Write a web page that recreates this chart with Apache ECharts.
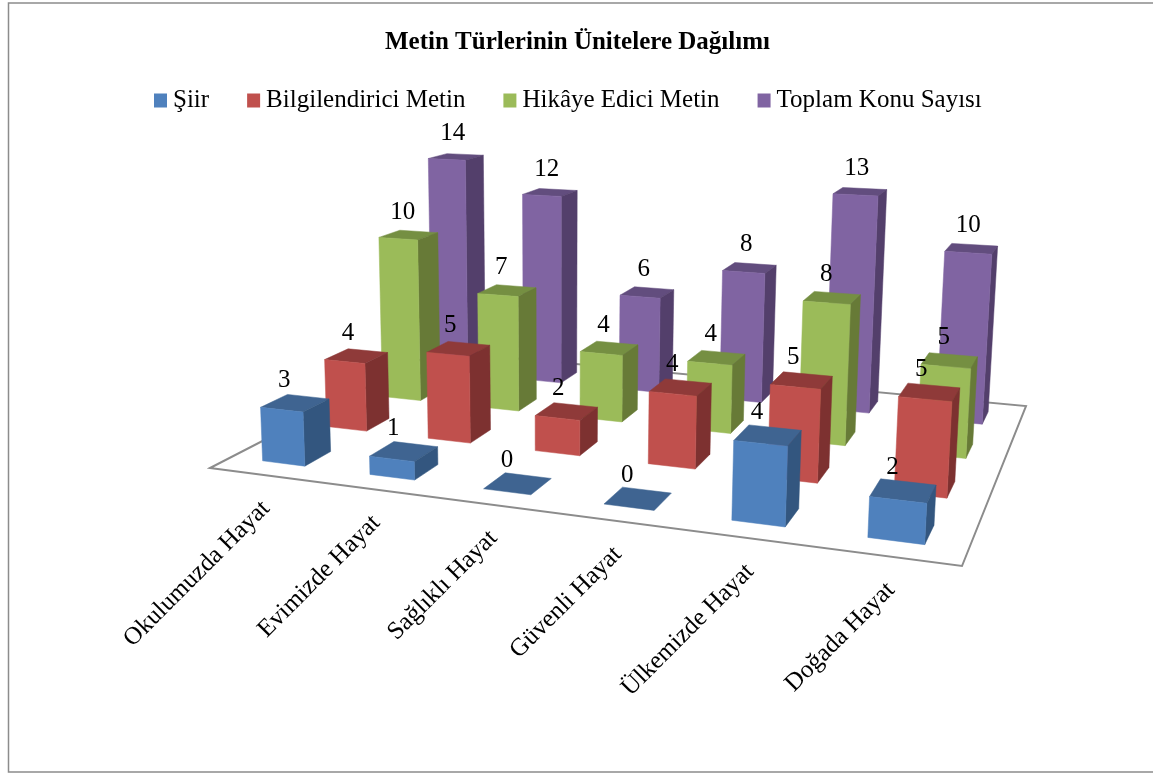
<!DOCTYPE html>
<html>
<head>
<meta charset="utf-8">
<title>Metin Türlerinin Ünitelere Dağılımı</title>
<script src="https://cdn.jsdelivr.net/npm/echarts@6/dist/echarts.min.js"></script>
<style>
	html, body { margin: 0; padding: 0; background: #fff; }
	#main { width: 1153px; height: 774px; }
</style>
</head>
<body>
<div id="main"></div>
<script>
	const categories = ['Okulumuzda Hayat', 'Evimizde Hayat', 'Sağlıklı Hayat', 'Güvenli Hayat', 'Ülkemizde Hayat', 'Doğada Hayat']
	const seriesNames = ['Şiir', 'Bilgilendirici Metin', 'Hikâye Edici Metin', 'Toplam Konu Sayısı']
	const siir = [3, 1, 0, 0, 4, 2]
	const bilgilendirici = [4, 5, 2, 4, 5, 5]
	const hikaye = [10, 7, 4, 4, 8, 5]
	const toplam = [14, 12, 6, 8, 13, 10]
	const seriesValues = [siir, bilgilendirici, hikaye, toplam]

	// front, top, side
	const palette = [
		['#4f81bd', '#3f6491', '#33567f'],
		['#c0504d', '#8f3a39', '#7d3130'],
		['#9bbb59', '#758f42', '#677a37'],
		['#8064a2', '#624d7e', '#533f6b']
	]

	const font = '"Liberation Serif", "Times New Roman", serif'
	const zMax = 16
	const gapRatio = 0.4

	// floor corners on the page: front left, front right, back right, back left
	const floor = [[210, 468], [962, 566], [1026, 406], [437, 351]]
	// vanishing point of the vertical edges, and strength per unit of value
	const vertical = { x: 555, y: 8000, k: -0.00238 }

	function makeProjection() {
		const [p0, p1, p2, p3] = floor
		const dx1 = p1[0] - p2[0], dx2 = p3[0] - p2[0], sx = p0[0] - p1[0] + p2[0] - p3[0]
		const dy1 = p1[1] - p2[1], dy2 = p3[1] - p2[1], sy = p0[1] - p1[1] + p2[1] - p3[1]
		const det = dx1 * dy2 - dx2 * dy1
		const g = (sx * dy2 - dx2 * sy) / det
		const h = (dx1 * sy - sx * dy1) / det
		const a = p1[0] - p0[0] + g * p1[0], b = p3[0] - p0[0] + h * p3[0]
		const d = p1[1] - p0[1] + g * p1[1], e = p3[1] - p0[1] + h * p3[1]
		return function (u, v, z) {
			const kz = z * vertical.k
			const w = g * u + h * v + 1 + kz
			return [
				(a * u + b * v + p0[0] + kz * vertical.x) / w,
				(d * u + e * v + p0[1] + kz * vertical.y) / w
			]
		}
	}
	const project = makeProjection()

	// read the bar's place from the hidden axes
	function barBox(params, api) {
		const grid = params.coordSys
		const pos = api.coord([api.value(0), api.value(1)])
		const band = api.size([1, 0])[0] / grid.width
		return {
			u: (pos[0] - grid.x) / grid.width,
			z: (grid.y + grid.height - pos[1]) / grid.height * zMax,
			halfU: band * gapRatio / 2
		}
	}

	function renderBar(s) {
		const cellV = 1 / seriesNames.length
		const v = (s + 0.5) * cellV
		const halfV = cellV * gapRatio / 2
		return function (params, api) {
			const box = barBox(params, api)
			const u0 = box.u - box.halfU, u1 = box.u + box.halfU
			const v0 = v - halfV, v1 = v + halfV
			const face = (pts, color) => ({
				type: 'polygon',
				shape: { points: pts.map(p => project(p[0], p[1], p[2])) },
				style: { fill: color, stroke: color, lineWidth: 0.5 }
			})
			const children = [
				face([[u0, v0, box.z], [u1, v0, box.z], [u1, v1, box.z], [u0, v1, box.z]], palette[s][1])
			]
			if (box.z > 0) {
				children.push(face([[u1, v0, 0], [u1, v1, 0], [u1, v1, box.z], [u1, v0, box.z]], palette[s][2]))
				children.push(face([[u0, v0, 0], [u1, v0, 0], [u1, v0, box.z], [u0, v0, box.z]], palette[s][0]))
			}
			return { type: 'group', children: children }
		}
	}

	function renderValueLabel(s) {
		const v = (s + 0.5) / seriesNames.length
		return function (params, api) {
			const box = barBox(params, api)
			const p = project(box.u, v, box.z)
			return {
				type: 'text',
				x: p[0] - 12 + 10 * v,
				y: p[1] - 23,
				style: {
					text: String(api.value(1)),
					font: '25px ' + font,
					fill: '#000',
					align: 'center',
					verticalAlign: 'middle'
				}
			}
		}
	}

	function renderCategoryLabel(params, api) {
		const box = barBox(params, api)
		const p = project(box.u, 0, 0)
		return {
			type: 'text',
			x: p[0] + 3,
			y: p[1] + 30,
			rotation: Math.PI / 4,
			style: {
				text: categories[api.value(0)],
				font: '25px ' + font,
				fill: '#000',
				align: 'right',
				verticalAlign: 'middle'
			}
		}
	}

	function renderFloor() {
		return {
			type: 'polygon',
			shape: { points: [project(0, 0, 0), project(1, 0, 0), project(1, 1, 0), project(0, 1, 0)] },
			style: { fill: '#fff', stroke: '#8c8c8c', lineWidth: 2 }
		}
	}

	const barSeries = seriesNames.map((name, s) => ({
		name: name,
		type: 'custom',
		coordinateSystem: 'cartesian2d',
		z: 6 - s,
		clip: false,
		silent: true,
		itemStyle: { color: palette[s][0] },
		encode: { x: 0, y: 1 },
		data: seriesValues[s].map((val, i) => [i, val]),
		renderItem: renderBar(s)
	}))

	const valueLabelSeries = seriesNames.map((name, s) => ({
		type: 'custom',
		coordinateSystem: 'cartesian2d',
		z: 10,
		clip: false,
		silent: true,
		encode: { x: 0, y: 1 },
		data: seriesValues[s].map((val, i) => [i, val]),
		renderItem: renderValueLabel(s)
	}))

	const myChart = echarts.init(document.getElementById('main'), null, { renderer: 'canvas' })
	myChart.setOption({
		animation: false,
		backgroundColor: '#fff',
		title: {
			text: 'Metin Türlerinin Ünitelere Dağılımı',
			left: 380,
			top: 25,
			textStyle: { fontFamily: font, fontSize: 25, fontWeight: 'bold', color: '#000' }
		},
		legend: {
			data: seriesNames,
			left: 149,
			top: 83,
			icon: 'rect',
			itemWidth: 13,
			itemHeight: 14,
			itemGap: 38,
			textStyle: { fontFamily: font, fontSize: 25, color: '#000', padding: [0, 0, 0, 1] }
		},
		grid: { left: 0, right: 0, top: 0, bottom: 0 },
		xAxis: { type: 'category', data: categories, show: false },
		yAxis: { type: 'value', min: 0, max: zMax, show: false },
		graphic: [{
			type: 'rect',
			shape: { x: 8.5, y: 3, width: 1160, height: 769 },
			style: { fill: 'none', stroke: '#8c8c8c', lineWidth: 1.5 },
			silent: true
		}],
		series: [{
			type: 'custom',
			coordinateSystem: 'cartesian2d',
			z: 1,
			clip: false,
			silent: true,
			data: [[0, 0]],
			renderItem: renderFloor
		}].concat(barSeries, valueLabelSeries, [{
			type: 'custom',
			coordinateSystem: 'cartesian2d',
			z: 10,
			clip: false,
			silent: true,
			encode: { x: 0, y: 1 },
			data: categories.map((c, i) => [i, 0]),
			renderItem: renderCategoryLabel
		}])
	})
</script>
</body>
</html>
